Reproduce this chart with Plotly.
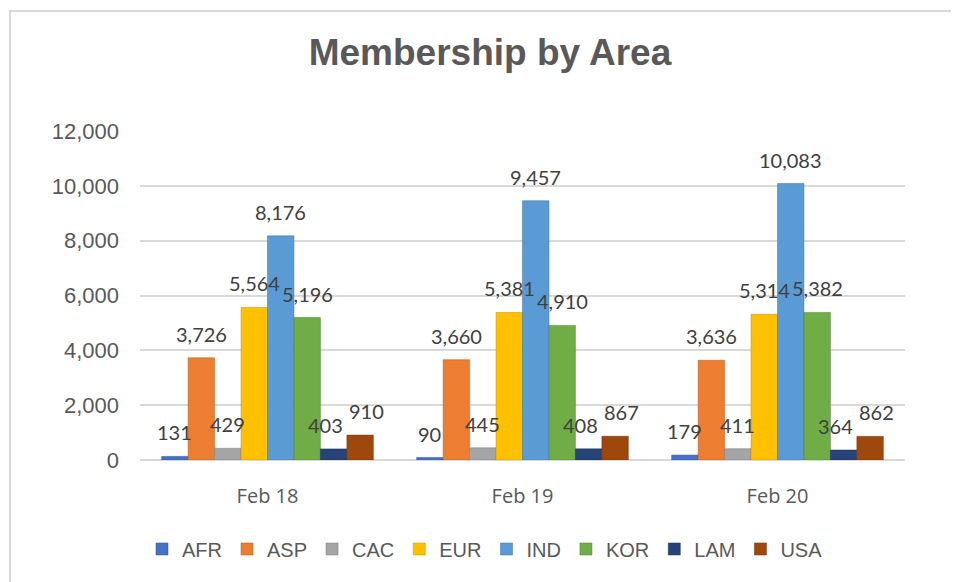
import plotly.graph_objects as go

categories = ["Feb 18", "Feb 19", "Feb 20"]
series_names = ["AFR", "ASP", "CAC", "EUR", "IND", "KOR", "LAM", "USA"]
afr = [131, 90, 179]
asp = [3726, 3660, 3636]
cac = [429, 445, 411]
eur = [5564, 5381, 5314]
ind = [8176, 9457, 10083]
kor = [5196, 4910, 5382]
lam = [403, 408, 364]
usa = [910, 867, 862]
y_ticks = [0, 2000, 4000, 6000, 8000, 10000, 12000]

series_values = [afr, asp, cac, eur, ind, kor, lam, usa]
colors = ["#4472C4", "#ED7D31", "#A5A5A5", "#FFC000", "#5B9BD5", "#70AD47", "#264478", "#9E480E"]
line_colors = ["#2F5597", "#AE5A21", "#7B7B7B", "#BF9000", "#41719C", "#507E32", "#1A2F55", "#6F3209"]

OFF = 8  # page offset of the figure in the browser window
W, H = 959, 582
L = 140 - OFF
T = 131 - OFF
B = H - (460 - OFF)
R = W - (905 - OFF)
pw, ph = W - L - R, H - T - B
BARGAP = 0.17

def px_x(p):
    return (p - OFF - L) / pw

def px_y(p):
    return (H - B - (p - OFF)) / ph

fig = go.Figure()
for name, vals, c, lc in zip(series_names, series_values, colors, line_colors):
    fig.add_trace(go.Bar(
        name=name, x=categories, y=vals,
        marker=dict(color=c, line=dict(color=lc, width=0.5)),
    ))

# data labels as annotations on top of every bar (drawn above all bars)
n = len(series_names)
bar_px = pw / len(categories) * (1 - BARGAP) / n
label_nudge = {"LAM": -8, "USA": 6}
annotations = []
for i, (name, vals) in enumerate(zip(series_names, series_values)):
    for cat, v in zip(categories, vals):
        annotations.append(dict(
            x=cat, y=v, xref="x", yref="y", text=f"{v:,}", showarrow=False,
            xshift=(i - (n - 1) / 2) * bar_px + label_nudge.get(name, 0),
            yshift=24, yanchor="middle",
            font=dict(family="Lato, Liberation Sans, sans-serif", size=20, color="#404040"),
        ))

fig.update_layout(
    width=W, height=H,
    margin=dict(l=L, r=R, t=T, b=B),
    paper_bgcolor="white", plot_bgcolor="white",
    barmode="group", bargap=BARGAP, bargroupgap=0,
    title=dict(text="<b>Membership by Area</b>", x=(490 - OFF) / W, xanchor="center",
               y=1 - (52 - OFF) / H, yanchor="middle",
               font=dict(family="Liberation Sans, Arial, sans-serif", size=37, color="#595959")),
    font=dict(family="Liberation Sans, Arial, sans-serif", color="#595959"),
    legend=dict(orientation="h", x=px_x(485), xanchor="center", y=px_y(549), yanchor="middle",
                font=dict(size=20, color="#595959"), traceorder="normal"),
    xaxis=dict(showgrid=False, showline=False, ticks="", ticklabelstandoff=22,
               tickfont=dict(family="Open Sans, sans-serif", size=20, color="#595959")),
    yaxis=dict(range=[0, 12000], tickvals=y_ticks, tickformat=",", showgrid=True,
               gridcolor="#D9D9D9", gridwidth=2, zeroline=True, zerolinecolor="#D9D9D9",
               zerolinewidth=2, showline=False, ticks="", ticklabelstandoff=20,
               tickfont=dict(size=22, color="#595959")),
    annotations=annotations,
    shapes=[dict(type="rect", xref="paper", yref="paper",
                 x0=px_x(10), x1=px_x(1100), y0=px_y(700), y1=px_y(11),
                 line=dict(color="#D9D9D9", width=2), fillcolor="rgba(0,0,0,0)", layer="below")],
)

fig.write_html("out.html")
